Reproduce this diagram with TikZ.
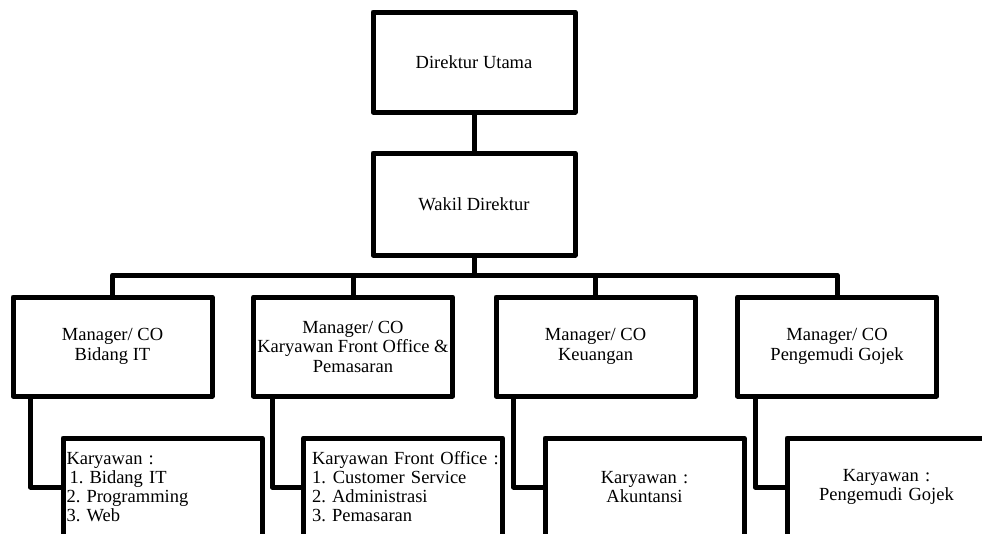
\documentclass[tikz,border=0pt]{standalone}
\usepackage{fontspec}
\setmainfont{Liberation Serif}
\frenchspacing
\begin{document}
\begin{tikzpicture}[x=1pt,y=-1pt,line width=5pt,line join=round,
  txt/.style={font=\fontsize{18.5pt}{19pt}\selectfont},
  mtxt/.style={font=\fontsize{18.5pt}{19.5pt}\selectfont},
  topbox/.style={draw,txt,minimum width=202pt,minimum height=100pt,inner sep=0pt,align=center},
  mgrbox/.style={draw,mtxt,minimum width=199pt,minimum height=99pt,inner sep=0pt,align=center},
  empbox/.style={draw,txt,minimum width=199pt,minimum height=98pt,text width=199pt-2*#1,inner xsep=#1,inner ysep=0pt},
  empbox/.default=1pt,
  link/.style={draw,line width=5pt}]
\useasboundingbox (0,0) rectangle (982,533);
\fill[white] (0,0) rectangle (982,533);
\clip (0,0) rectangle (982,533);
\node[topbox] (du) at (474,62) {Direktur Utama};
\node[topbox,minimum height=102pt] (wd) at (474,204) {Wakil Direktur};
\coordinate (bus) at (0,275);
\node[mgrbox] (m1) at (112.5,346.5) {Manager/ CO\\Bidang IT};
\node[mgrbox] (m2) at (353,346.5) {Manager/ CO\\Karyawan Front Office \&\\Pemasaran};
\node[mgrbox] (m3) at (595.5,346.5) {Manager/ CO\\Keuangan};
\node[mgrbox] (m4) at (837,346.5) {Manager/ CO\\Pengemudi Gojek};
\node[empbox=3.5pt,align=left] (k1) at (162.5,487) {Karyawan :\\\hspace*{3pt}1. Bidang IT\\2. Programming\\3. Web};
\node[empbox=8.5pt,align=left] (k2) at (403,487) {\mbox{Karyawan Front Office :}\\1.\hspace{7pt}Customer Service\\2. Administrasi\\3. Pemasaran};
\node[empbox,align=center] (k3) at (644.5,487) {Karyawan :\\Akuntansi};
\node[empbox,align=center] (k4) at (886.5,487) {Karyawan :\\Pengemudi Gojek};
\draw[link] (du.south) -- (wd.north);
\draw[link] (wd.south) -- (wd.south |- bus);
\draw[link] (m1.north) |- (m4.north |- bus) -- (m4.north);
\draw[link] (m2.north) -- (m2.north |- bus);
\draw[link] (m3.north) -- (m3.north |- bus);
\draw[link] ([xshift=20pt]m1.south west) |- (k1.west);
\draw[link] ([xshift=21pt]m2.south west) |- (k2.west);
\draw[link] ([xshift=20pt]m3.south west) |- (k3.west);
\draw[link] ([xshift=20pt]m4.south west) |- (k4.west);
\end{tikzpicture}
\end{document}
